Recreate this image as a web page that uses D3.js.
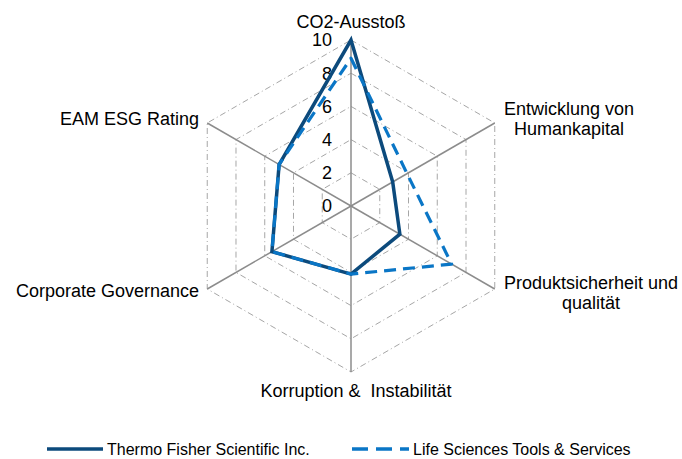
<!DOCTYPE html>
<html>
<head>
<meta charset="utf-8">
<script src="https://cdn.jsdelivr.net/npm/d3@7/dist/d3.min.js"></script>
<style>
html,body{margin:0;padding:0;background:#fff;}
svg{display:block;font-family:"Liberation Sans",Arial,sans-serif;}
</style>
</head>
<body>
<svg id="chart" width="682" height="459"></svg>
<script>
const categories = [
  ["CO2-Ausstoß"],
  ["Entwicklung von", "Humankapital"],
  ["Produktsicherheit und", "qualität"],
  ["Korruption &  Instabilität"],
  ["Corporate Governance"],
  ["EAM ESG Rating"]
];
const seriesNames = ["Thermo Fisher Scientific Inc.", "Life Sciences Tools & Services"];
const thermoFisher = [10, 2.9, 3.4, 4.1, 5.5, 5.0];
const lifeSciences = [8.9, 3.9, 7.0, 4.1, 5.5, 5.0];
const tickValues = [0, 2, 4, 6, 8, 10];

const svg = d3.select("#chart");
const cx = 351, cy = 206;
const r = d3.scaleLinear().domain([0, 10]).range([0, 166]);
const angle = d3.scaleLinear().domain([0, categories.length]).range([0, 2 * Math.PI]);
const g = svg.append("g").attr("transform", `translate(${cx},${cy})`);

const pt = (i, v) => [Math.sin(angle(i)) * r(v), -Math.cos(angle(i)) * r(v)];

// grid hexagons
const radial = d3.lineRadial().angle((d, i) => angle(i)).radius(d => r(d)).curve(d3.curveLinearClosed);
tickValues.filter(t => t > 0).forEach(t => {
  g.append("path")
    .attr("d", radial(categories.map(() => t)))
    .attr("fill", "none")
    .attr("stroke", "#a6a6a6")
    .attr("stroke-width", 1)
    .attr("stroke-dasharray", "6,3,1,3");
});

// spokes
categories.forEach((c, i) => {
  const p = pt(i, 10);
  g.append("line").attr("x1", 0).attr("y1", 0).attr("x2", p[0]).attr("y2", p[1])
    .attr("stroke", "#8c8c8c").attr("stroke-width", 1.5);
});

// tick labels
tickValues.forEach(t => {
  g.append("text").attr("x", -19).attr("y", -r(t)).attr("dy", "0.35em")
    .attr("text-anchor", "end").attr("font-size", 18).attr("fill", "#000").text(t);
});

// series
const seriesLine = d3.lineRadial().angle((d, i) => angle(i)).radius(d => r(d)).curve(d3.curveLinearClosed);
g.append("path").attr("d", seriesLine(thermoFisher))
  .attr("fill", "none").attr("stroke", "#0c4a7c").attr("stroke-width", 3.5).attr("stroke-linejoin", "miter");
g.append("path").attr("d", seriesLine(lifeSciences))
  .attr("fill", "none").attr("stroke", "#0a76c6").attr("stroke-width", 3.2)
  .attr("stroke-dasharray", "12,7").attr("stroke-linejoin", "round");

// category labels
const labelPos = [
  {x: 351, y: 28, anchor: "middle"},
  {x: 569, y: 115, anchor: "middle"},
  {x: 591, y: 289, anchor: "middle"},
  {x: 356, y: 397, anchor: "middle"},
  {x: 199, y: 297, anchor: "end"},
  {x: 199, y: 125, anchor: "end"}
];
categories.forEach((lines, i) => {
  const lp = labelPos[i];
  const t = svg.append("text").attr("x", lp.x).attr("y", lp.y)
    .attr("text-anchor", lp.anchor).attr("font-size", 18).attr("fill", "#000")
    .style("white-space", "pre");
  lines.forEach((s, j) => {
    t.append("tspan").attr("x", lp.x).attr("dy", j === 0 ? 0 : 20).text(s);
  });
});

// legend
const ly = 449;
const leg = svg.append("g");
leg.append("line").attr("x1", 47).attr("x2", 103).attr("y1", ly).attr("y2", ly)
  .attr("stroke", "#0c4a7c").attr("stroke-width", 3.5);
leg.append("text").attr("x", 107).attr("y", ly).attr("dy", "0.35em").attr("font-size", 16)
  .attr("fill", "#000").text(seriesNames[0]);
leg.append("line").attr("x1", 352).attr("x2", 409).attr("y1", ly).attr("y2", ly)
  .attr("stroke", "#0a76c6").attr("stroke-width", 3.5).attr("stroke-dasharray", "16,8");
leg.append("text").attr("x", 413).attr("y", ly).attr("dy", "0.35em").attr("font-size", 16)
  .attr("fill", "#000").text(seriesNames[1]);
</script>
</body>
</html>
